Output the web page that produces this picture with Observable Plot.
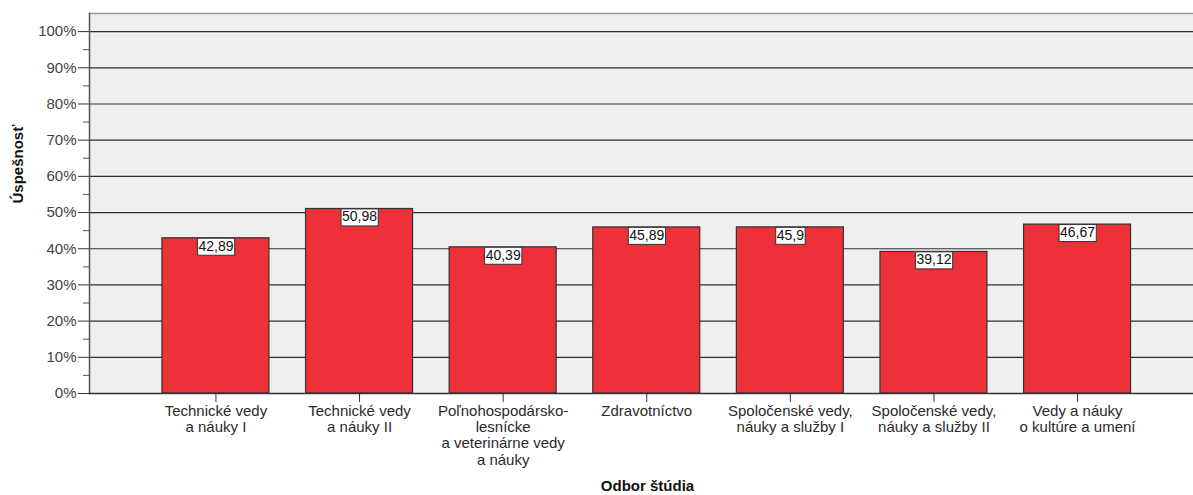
<!DOCTYPE html>
<html>
<head>
<meta charset="utf-8">
<script src="https://cdn.jsdelivr.net/npm/d3@7"></script>
<script src="https://cdn.jsdelivr.net/npm/@observablehq/plot@0.6"></script>
<style>
  html, body { margin: 0; padding: 0; background: #fff; }
</style>
</head>
<body>
<script>
const categories = [
  "Technické vedy\na náuky I",
  "Technické vedy\na náuky II",
  "Poľnohospodársko-\nlesnícke\na veterinárne vedy\na náuky",
  "Zdravotníctvo",
  "Spoločenské vedy,\nnáuky a služby I",
  "Spoločenské vedy,\nnáuky a služby II",
  "Vedy a náuky\no kultúre a umení"
];
const values = [42.89, 50.98, 40.39, 45.89, 45.9, 39.12, 46.67];
const valueLabels = ["42,89", "50,98", "40,39", "45,89", "45,9", "39,12", "46,67"];
const majorTicks = [0, 10, 20, 30, 40, 50, 60, 70, 80, 90, 100];
const minorTicks = [5, 15, 25, 35, 45, 55, 65, 75, 85, 95];
const yTitle = "Úspešnosť";
const xTitle = "Odbor štúdia";

const data = categories.map((c, i) => ({cat: c, val: values[i], label: valueLabels[i]}));

const font = "'Liberation Sans', Arial, sans-serif";

const chart = Plot.plot({
  width: 1193,
  height: 495,
  marginLeft: 89,
  marginRight: 0,
  marginTop: 13,
  marginBottom: 102,
  style: {fontFamily: font, fontSize: "15px", background: "#fff", overflow: "hidden"},
  x: {domain: categories, range: [89, 1203.5], paddingInner: 0.255, paddingOuter: 0.508, round: false, label: null},
  y: {domain: [0, 105], label: null},
  marks: [
    Plot.frame({fill: "#efefef", stroke: "none"}),
    Plot.ruleY(majorTicks.filter(d => d > 0), {stroke: "#2f2f2f", strokeWidth: 1.2}),
    Plot.frame({anchor: "top", stroke: "#9a9a9a", strokeWidth: 1.5}),
    Plot.frame({anchor: "left", stroke: "#555", strokeWidth: 1.5}),
    Plot.barY(data, {x: "cat", y: "val", fill: "#ee3039", stroke: "#333", strokeWidth: 1.2}),
    Plot.ruleY([0], {stroke: "#333", strokeWidth: 1.5}),
    Plot.axisY({ticks: majorTicks, tickSize: 11, tickPadding: 2, tickFormat: d => d + "%", fontSize: 15, color: "#444", stroke: "#333", label: null}),
    Plot.axisY({ticks: minorTicks, tickSize: 6, tickFormat: () => "", stroke: "#555", label: null}),
    Plot.axisX({tickSize: 9, tickPadding: 2, fontSize: 15, lineHeight: 1.08, color: "#2a2a2a", stroke: "#333", label: null}),
    Plot.text(data, {x: "cat", y: "val", text: "label", lineAnchor: "top", dy: 2.5, fontSize: 14, fill: "#111", className: "vlabel"}),
    Plot.text([yTitle], {frameAnchor: "left", rotate: -90, dx: -71.5, fontWeight: "bold", fontSize: 15, fill: "#111"}),
    Plot.text([xTitle], {frameAnchor: "bottom", dx: 6, dy: 93, lineAnchor: "middle", fontWeight: "bold", fontSize: 15, fill: "#111"})
  ]
});

document.body.append(chart);

// white boxes behind the value labels
const ns = "http://www.w3.org/2000/svg";
d3.select(chart).selectAll("g.vlabel text").each(function() {
  const bb = this.getBBox();
  const g = this.parentNode;
  const r = document.createElementNS(ns, "rect");
  const t = this.getAttribute("transform");
  r.setAttribute("x", bb.x - 1);
  r.setAttribute("y", bb.y + 0.5);
  r.setAttribute("width", bb.width + 2);
  r.setAttribute("height", 17);
  r.setAttribute("fill", "#fff");
  r.setAttribute("stroke", "#333");
  r.setAttribute("stroke-width", 1);
  if (t) r.setAttribute("transform", t);
  g.insertBefore(r, this);
});
</script>
</body>
</html>
